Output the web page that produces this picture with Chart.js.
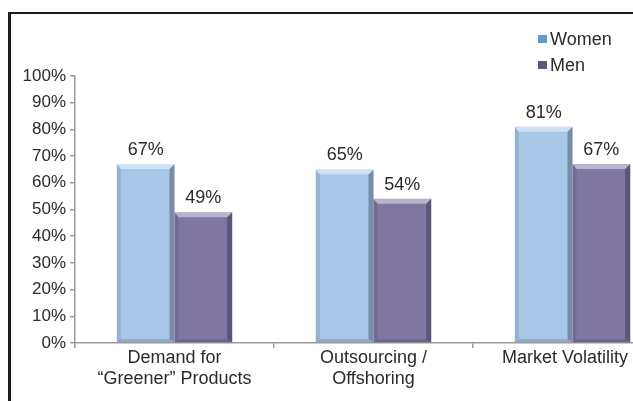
<!DOCTYPE html>
<html>
<head>
<meta charset="utf-8">
<script src="https://cdn.jsdelivr.net/npm/chart.js@4.4.1/dist/chart.umd.min.js"></script>
<style>
  html, body { margin: 0; padding: 0; background: #fff; }
  body { width: 633px; height: 401px; overflow: hidden; position: relative; }
  #frame {
    position: absolute; left: 8px; top: 12px; width: 720px; height: 420px;
    border-left: 3px solid #1c1c1c; border-top: 2px solid #1c1c1c;
  }
  #wrap { position: absolute; left: 0; top: 0; width: 680px; height: 401px; }
</style>
</head>
<body>
<div id="frame"></div>
<div id="wrap"><canvas id="c" width="680" height="401"></canvas></div>
<script>
// Share of respondents citing each factor, by gender (percent)
const categories = [["Demand for", "\u201cGreener\u201d Products"], ["Outsourcing /", "Offshoring"], "Market Volatility"];
const seriesNames = ["Women", "Men"];
const women = [67, 65, 81];
const men = [49, 54, 67];
const yTicks = [0, 10, 20, 30, 40, 50, 60, 70, 80, 90, 100];

const FONT = "'Liberation Sans', Arial, Helvetica, sans-serif";
const TEXT = "#2b2b2b";
const VIEW_RIGHT = 628; // labels are kept inside the visible frame

const barFill = ["#a8c7e7", "#7f77a1"];
const swatch = ["#5d9bd1", "#5b5a78"];

// Bevelled look on each bar: darker side edges, lighter top band
const bevel = {
  id: "bevel",
  afterDatasetsDraw(chart) {
    const ctx = chart.ctx;
    chart.data.datasets.forEach((ds, di) => {
      chart.getDatasetMeta(di).data.forEach(bar => {
        const { x, y, base, width } = bar.getProps(["x", "y", "base", "width"], true);
        const l = x - width / 2, r = x + width / 2;
        ctx.save();
        ctx.fillStyle = "rgba(20,20,40,0.32)";
        ctx.beginPath();
        ctx.moveTo(r - 5, y + 5); ctx.lineTo(r, y); ctx.lineTo(r, base); ctx.lineTo(r - 5, base - 3);
        ctx.closePath(); ctx.fill();
        ctx.fillStyle = "rgba(20,20,40,0.12)";
        ctx.beginPath();
        ctx.moveTo(l, y); ctx.lineTo(l + 4, y + 5); ctx.lineTo(l + 4, base - 3); ctx.lineTo(l, base);
        ctx.closePath(); ctx.fill();
        ctx.fillStyle = "rgba(255,255,255,0.45)";
        ctx.beginPath();
        ctx.moveTo(l, y); ctx.lineTo(r, y); ctx.lineTo(r - 5, y + 5); ctx.lineTo(l + 4, y + 5);
        ctx.closePath(); ctx.fill();
        ctx.fillStyle = "rgba(20,20,40,0.18)";
        ctx.beginPath();
        ctx.moveTo(l, base); ctx.lineTo(r, base); ctx.lineTo(r - 5, base - 3); ctx.lineTo(l + 4, base - 3);
        ctx.closePath(); ctx.fill();
        ctx.restore();
      });
    });
  }
};

// Percent labels above the bars
const valueLabels = {
  id: "valueLabels",
  afterDatasetsDraw(chart) {
    const ctx = chart.ctx;
    ctx.save();
    ctx.font = "18px " + FONT;
    ctx.fillStyle = TEXT;
    ctx.textAlign = "center";
    ctx.textBaseline = "bottom";
    chart.data.datasets.forEach((ds, di) => {
      chart.getDatasetMeta(di).data.forEach((bar, i) => {
        ctx.fillText(ds.data[i] + "%", bar.x, bar.y - 5);
      });
    });
    ctx.restore();
  }
};

// Category names under the axis, shifted left when they would run past the frame
const categoryLabels = {
  id: "categoryLabels",
  afterDraw(chart) {
    const ctx = chart.ctx;
    const sx = chart.scales.x;
    const lh = 21;
    ctx.save();
    ctx.font = "18px " + FONT;
    ctx.fillStyle = TEXT;
    ctx.textAlign = "center";
    ctx.textBaseline = "middle";
    chart.data.labels.forEach((lab, i) => {
      const lines = Array.isArray(lab) ? lab : [lab];
      const w = Math.max(...lines.map(t => ctx.measureText(t).width));
      const cx = Math.min(sx.getPixelForValue(i), VIEW_RIGHT - w / 2);
      lines.forEach((t, k) => ctx.fillText(t, cx, sx.top + 5 + lh * (k + 0.5)));
    });
    ctx.restore();
  }
};

// Stacked legend in the upper right
const sideLegend = {
  id: "sideLegend",
  afterDraw(chart) {
    const ctx = chart.ctx;
    ctx.save();
    ctx.font = "18px " + FONT;
    ctx.textBaseline = "middle";
    ctx.textAlign = "left";
    chart.data.datasets.forEach((ds, di) => {
      const cy = 39 + di * 26;
      ctx.fillStyle = swatch[di];
      ctx.fillRect(538, cy - 4, 9, 8);
      ctx.fillStyle = TEXT;
      ctx.fillText(ds.label, 550, cy + 1);
    });
    ctx.restore();
  }
};

new Chart(document.getElementById("c"), {
  type: "bar",
  data: {
    labels: categories,
    datasets: [
      { label: seriesNames[0], data: women, backgroundColor: barFill[0] },
      { label: seriesNames[1], data: men, backgroundColor: barFill[1] }
    ]
  },
  options: {
    responsive: false,
    devicePixelRatio: 1,
    animation: false,
    layout: { padding: { top: 76, right: 8, bottom: 0, left: 0 } },
    datasets: { bar: { categoryPercentage: 0.58, barPercentage: 1.0, borderWidth: 0 } },
    plugins: { legend: { display: false }, tooltip: { enabled: false } },
    scales: {
      x: {
        offset: true,
        grid: { display: true, drawOnChartArea: false, drawTicks: true, tickLength: 5, color: "#9a9a9a", lineWidth: 1.5, offset: true },
        border: { color: "#9a9a9a", width: 1.5 },
        ticks: { display: false },
        afterFit(scale) { scale.height = 58; }
      },
      y: {
        min: 0, max: 100,
        afterBuildTicks(scale) { scale.ticks = yTicks.map(v => ({ value: v })); },
        grid: { display: true, drawOnChartArea: false, drawTicks: true, tickLength: 5, color: "#9a9a9a", lineWidth: 1.5 },
        border: { color: "#9a9a9a", width: 1.5 },
        ticks: { color: TEXT, font: { family: FONT, size: 17 }, padding: 4, callback: v => v + "%" },
        afterFit(scale) { scale.width = 75; }
      }
    }
  },
  plugins: [bevel, valueLabels, categoryLabels, sideLegend]
});
</script>
</body>
</html>
